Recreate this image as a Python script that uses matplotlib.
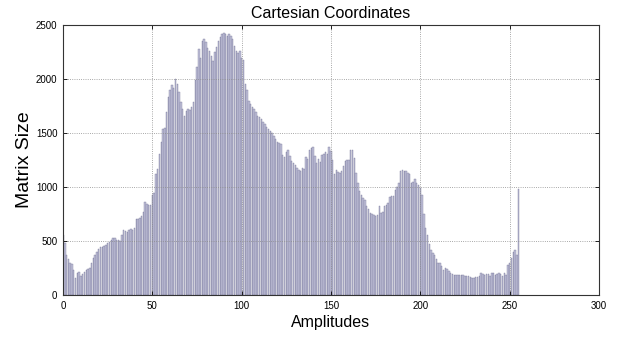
import matplotlib.pyplot as plt
import numpy as np

plt.rcParams['font.family'] = ['Liberation Sans', 'DejaVu Sans']

# histogram counts for amplitudes 0..255
counts = [
    560, 480, 370, 330, 300, 290, 230, 160, 200, 210,
    180, 190, 215, 230, 240, 250, 300, 340, 370, 400,
    430, 440, 445, 450, 460, 480, 490, 510, 530, 525,
    510, 505, 500, 560, 600, 590, 585, 600, 615, 605,
    620, 700, 705, 710, 730, 770, 860, 845, 835, 830,
    930, 945, 1120, 1170, 1310, 1420, 1540, 1550, 1690, 1830,
    1900, 1940, 1920, 2000, 1950, 1880, 1790, 1720, 1660, 1700,
    1725, 1710, 1740, 1790, 1990, 2110, 2275, 2190, 2350, 2370,
    2340, 2290, 2260, 2215, 2170, 2250, 2295, 2350, 2385, 2415,
    2430, 2420, 2400, 2415, 2400, 2370, 2310, 2260, 2245, 2260,
    2190, 2180, 1950, 1900, 1800, 1770, 1740, 1720, 1690, 1660,
    1650, 1630, 1600, 1580, 1560, 1540, 1520, 1500, 1470, 1440,
    1420, 1410, 1400, 1300, 1280, 1320, 1340, 1290, 1240, 1220,
    1200, 1180, 1160, 1150, 1180, 1170, 1280, 1260, 1340, 1360,
    1370, 1290, 1220, 1260, 1230, 1300, 1310, 1320, 1310, 1370,
    1330, 1250, 1120, 1160, 1140, 1130, 1150, 1190, 1240, 1250,
    1250, 1340, 1345, 1270, 1130, 1040, 960, 930, 900, 880,
    820, 800, 760, 750, 745, 730, 740, 820, 760, 770,
    820, 830, 850, 910, 920, 915, 970, 1000, 1040, 1150,
    1160, 1150, 1145, 1130, 1120, 1040, 1050, 1070, 1040, 1020,
    990, 930, 750, 620, 560, 470, 420, 390, 370, 330,
    300, 295, 265, 235, 250, 240, 220, 200, 190, 185,
    185, 186, 185, 184, 186, 180, 176, 172, 170, 155,
    162, 164, 168, 172, 200, 190, 186, 195, 190, 172,
    200, 202, 186, 190, 202, 190, 172, 200, 186, 280,
    295, 340, 400, 420, 370, 980,
]
amplitudes = np.arange(len(counts))

xticks = [0, 50, 100, 150, 200, 250, 300]
yticks = [0, 500, 1000, 1500, 2000, 2500]

fig = plt.figure(figsize=(6.22, 3.41), dpi=100)
ax = fig.add_axes([0.1013, 0.1349, 0.8617, 0.7918])

ax.bar(amplitudes, counts, width=0.8, color='#c2c2da', edgecolor='#6a6a8e',
       linewidth=0.25, zorder=2)

ax.set_xlim(0, 300)
ax.set_ylim(0, 2500)
ax.set_xticks(xticks)
ax.set_yticks(yticks)
ax.tick_params(direction='in', length=3, width=0.6, top=True, right=True,
               labelsize=7, pad=4)
# grid lines drawn over the bars
ax.set_axisbelow(False)
ax.grid(True, linestyle=':', color='#8c8c8c', linewidth=0.6, zorder=3)
for s in ax.spines.values():
    s.set_linewidth(0.8)
    s.set_color('#333333')
    s.set_zorder(4)

ax.set_title('Cartesian Coordinates', fontsize=11.5, pad=5)
ax.set_xlabel('Amplitudes', fontsize=11.5, labelpad=3)
ax.set_ylabel('Matrix Size', fontsize=14, labelpad=2)

fig.savefig('out.png', dpi=100)
